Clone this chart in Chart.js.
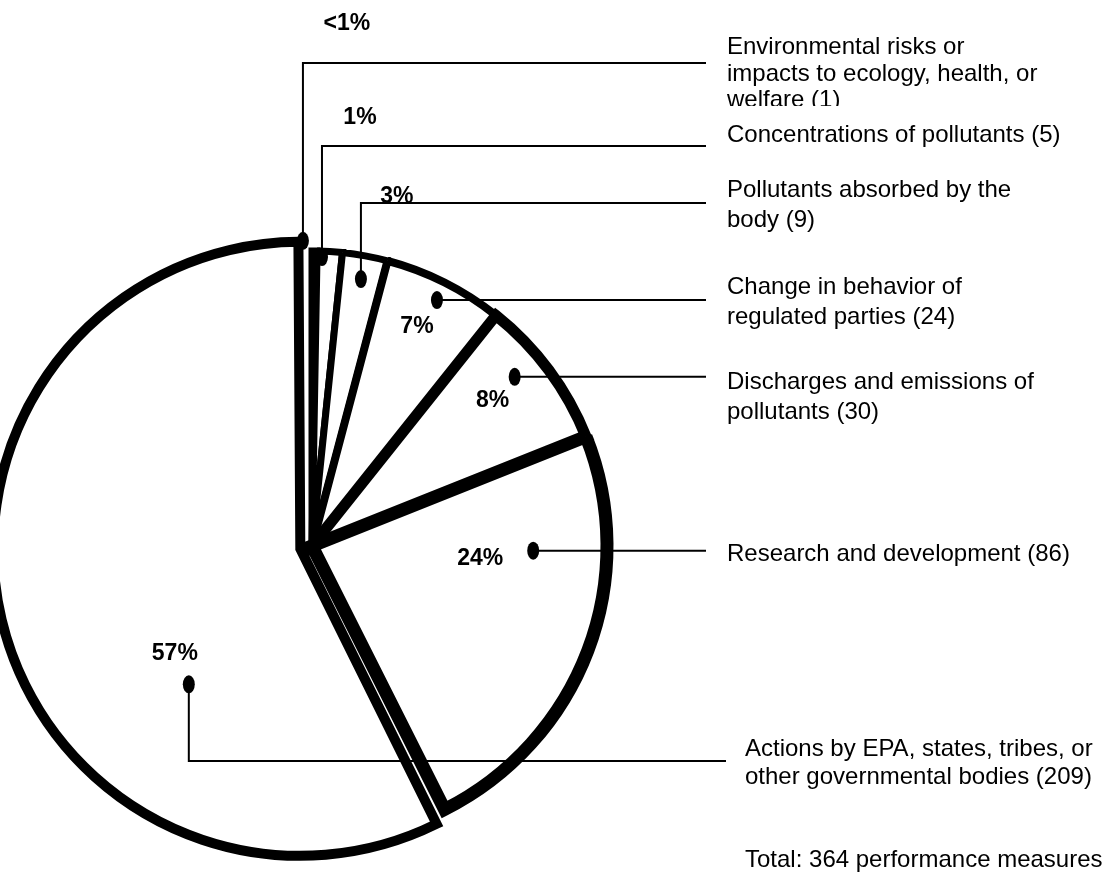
<!DOCTYPE html>
<html>
<head>
<meta charset="utf-8">
<script src="https://cdn.jsdelivr.net/npm/chart.js@4.4.1/dist/chart.umd.min.js"></script>
<style>
html, body { margin: 0; padding: 0; background: #fff; }
canvas { display: block; }
</style>
</head>
<body>
<canvas id="measuresChart" width="1108" height="874"></canvas>
<script>
// performance measures by type, clockwise from 12 o'clock
var categories = [
    "Environmental risks or impacts to ecology, health, or welfare",
    "Concentrations of pollutants",
    "Pollutants absorbed by the body",
    "Change in behavior of regulated parties",
    "Discharges and emissions of pollutants",
    "Research and development",
    "Actions by EPA, states, tribes, or other governmental bodies"
];
var measureCounts = [1, 5, 9, 24, 30, 86, 209];
var pctLabels = ["<1%", "1%", "3%", "7%", "8%", "24%", "57%"];
var totalLabel = "Total: 364 performance measures";

// label text, wrapped the way the picture has it
var labelLines = [
    ["Environmental risks or", "impacts to ecology, health, or", "welfare (1)"],
    ["Concentrations of pollutants (5)"],
    ["Pollutants absorbed by the", "body (9)"],
    ["Change in behavior of", "regulated parties (24)"],
    ["Discharges and emissions of", "pollutants (30)"],
    ["Research and development (86)"],
    ["Actions by EPA, states, tribes, or", "other governmental bodies (209)"]
];

// layout only
var sliceBorders = [7, 7, 7, 8, 11, 13, 10];
var sliceOffsets = [0, 0, 0, 0, 0, 0, 48];
var dotAt = [[-1.72, 1.035], [0.2, 0.98], [0.5, 0.92], [0.51, 0.935], [0.39, 0.895], [0.27, 0.75], [0.32, 0.595]];
var leaderY = [63, 146, 203, null, null, null, 761];
var leaderEndX = [706, 706, 706, 706, 706, 706, 726];
var pctOffset = [[44, -219], [38, -141], [36, -84], [-20, 25], [-22, 22], [-53, 6], [-14, -32]];
var textX = [727, 727, 727, 727, 727, 727, 745];
var textY = [[45, 72, 98], [133], [188, 218], [285, 315], [380, 410], [552], [747, 775]];
var textClipY = [106, null, null, null, null, null, null];
var totalPos = [745, 858];

var FONT = "'Liberation Sans', Arial, Helvetica, sans-serif";

var leaderPlugin = {
    id: 'leaders',
    afterDatasetsDraw: function(chart) {
        var ctx = chart.ctx;
        var arcs = chart.getDatasetMeta(0).data;

        ctx.save();
        ctx.fillStyle = '#000';
        ctx.strokeStyle = '#000';

        for (var i = 0; i < arcs.length; i++) {
            var arc = arcs[i];
            var p = arc.getProps(['x', 'y', 'startAngle', 'endAngle', 'outerRadius'], true);
            var mid = (p.startAngle + p.endAngle) / 2;
            var shift = (arc.options.offset || 0) / 4;
            var cx = p.x + Math.cos(mid) * shift;
            var cy = p.y + Math.sin(mid) * shift;
            var a = p.startAngle + dotAt[i][0] * (p.endAngle - p.startAngle);
            var r = dotAt[i][1] * p.outerRadius;
            var dx = cx + Math.cos(a) * r;
            var dy = cy + Math.sin(a) * r;
            var ly = leaderY[i] === null ? dy : leaderY[i];

            // leader line
            ctx.lineWidth = 2;
            ctx.beginPath();
            ctx.moveTo(dx, dy);
            ctx.lineTo(dx, ly);
            ctx.lineTo(leaderEndX[i], ly);
            ctx.stroke();

            // dot
            ctx.beginPath();
            ctx.ellipse(dx, dy, 6, 9, 0, 0, Math.PI * 2);
            ctx.fill();

            // percent
            ctx.font = "bold 23px " + FONT;
            ctx.textAlign = 'center';
            ctx.textBaseline = 'alphabetic';
            ctx.fillText(pctLabels[i], dx + pctOffset[i][0], dy + pctOffset[i][1] + 8);

            // category text
            ctx.save();
            if (textClipY[i] !== null) {
                ctx.beginPath();
                ctx.rect(textX[i] - 5, 0, 400, textClipY[i]);
                ctx.clip();
            }
            ctx.font = "24px " + FONT;
            ctx.textAlign = 'left';
            for (var j = 0; j < labelLines[i].length; j++) {
                ctx.fillText(labelLines[i][j], textX[i], textY[i][j] + 8.5);
            }
            ctx.restore();
        }

        ctx.font = "24px " + FONT;
        ctx.textAlign = 'left';
        ctx.fillText(totalLabel, totalPos[0], totalPos[1] + 8.5);
        ctx.restore();
    }
};

var measuresChart = new Chart(document.getElementById('measuresChart').getContext('2d'), {
    type: 'pie',
    data: {
        labels: categories,
        datasets: [{
            data: measureCounts,
            backgroundColor: '#ffffff',
            borderColor: '#000000',
            borderWidth: sliceBorders,
            borderJoinStyle: 'miter',
            offset: sliceOffsets
        }]
    },
    options: {
        responsive: false,
        animation: false,
        events: [],
        radius: 295,
        layout: { padding: { left: 0, right: 484, top: 234, bottom: 16 } },
        plugins: {
            legend: { display: false },
            tooltip: { enabled: false }
        }
    },
    plugins: [leaderPlugin]
});
</script>
</body>
</html>
